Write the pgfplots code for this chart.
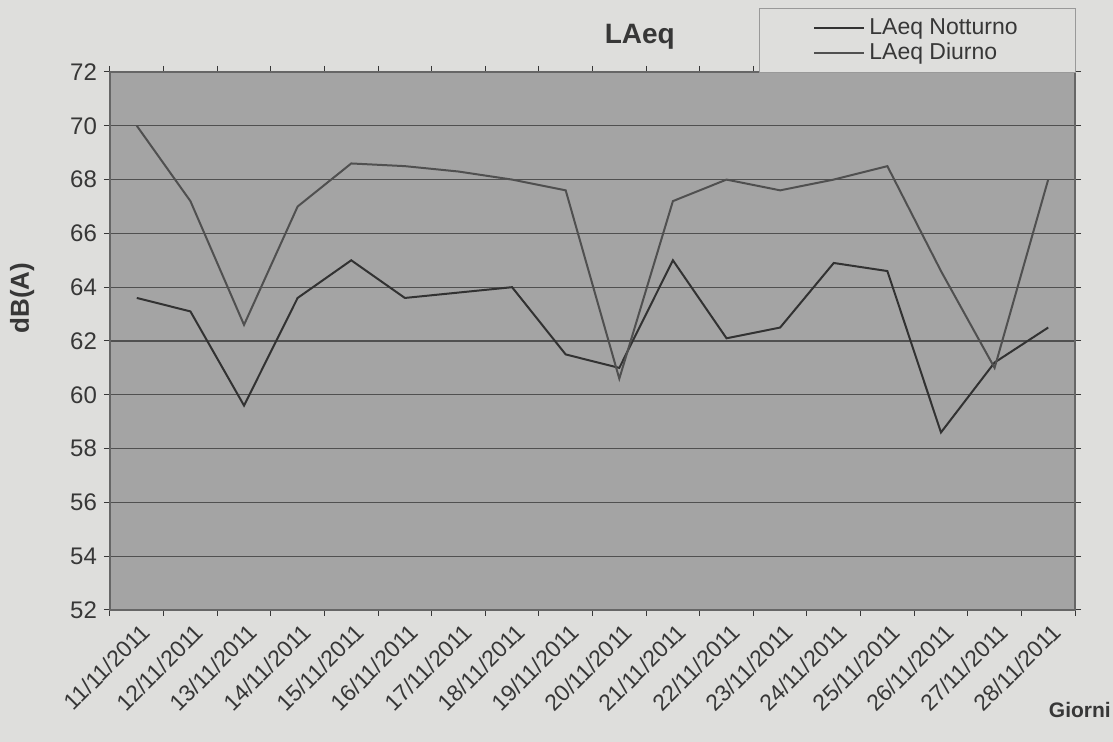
\documentclass[border=0pt]{standalone}
\usepackage{pgfplots}
\pgfplotsset{compat=1.18}
\usepackage{pgfplotstable}
\usepackage{fontspec}
\setmainfont{Liberation Sans}
\definecolor{paper}{RGB}{222,222,220}
\definecolor{plotbg}{RGB}{164,164,164}
\definecolor{ink}{RGB}{55,55,55}
\definecolor{gridc}{RGB}{80,80,80}
\definecolor{notturno}{RGB}{50,50,50}
\definecolor{diurno}{RGB}{80,80,80}

\pgfplotstableread{
idx N D
0 63.6 70.0
1 63.1 67.2
2 59.6 62.6
3 63.6 67.0
4 65.0 68.6
5 63.6 68.5
6 63.8 68.3
7 64.0 68.0
8 61.5 67.6
9 61.0 60.6
10 65.0 67.2
11 62.1 68.0
12 62.5 67.6
13 64.9 68.0
14 64.6 68.5
15 58.6 64.6
16 61.2 61.0
17 62.5 68.0
}\data

\begin{document}
\begin{tikzpicture}
\fill[paper] (-55pt,-66pt) rectangle (501.5pt,305pt);
\path[use as bounding box] (-55pt,-66pt) rectangle (501.5pt,305pt);
\begin{axis}[
  at={(0pt,0pt)}, anchor=south west,
  scale only axis,
  width=482.5pt, height=269pt,
  xmin=-0.5, xmax=17.5, ymin=52, ymax=72,
  ytick={52,54,...,72},
  xtick={0,...,17},
  xticklabels={11/11/2011,12/11/2011,13/11/2011,14/11/2011,15/11/2011,16/11/2011,17/11/2011,18/11/2011,19/11/2011,20/11/2011,21/11/2011,22/11/2011,23/11/2011,24/11/2011,25/11/2011,26/11/2011,27/11/2011,28/11/2011},
  minor xtick={-0.5,0.5,...,17.5},
  major x tick style={draw=none},
  minor x tick style={draw=ink, line width=0.5pt},
  ytick style={draw=ink, line width=0.5pt},
  tick align=outside,
  major tick length=3pt, minor tick length=3pt,
  x tick label style={rotate=45, anchor=north east, font=\fontsize{11.5}{12}\selectfont, text=ink, inner sep=1pt, yshift=-2pt},
  y tick label style={font=\fontsize{12}{13}\selectfont, text=ink},
  /pgf/number format/assume math mode=true,
  axis background/.style={fill=plotbg},
  axis line style={draw=black!60, line width=0.6pt},
  ymajorgrids,
  major grid style={draw=gridc, line width=0.6pt},
  title={\textbf{LAeq}},
  title style={at={(0.549,1.043)}, anchor=center, font=\fontsize{14}{16}\selectfont, text=ink},
  ylabel={\textbf{dB(A)}},
  ylabel style={at={(axis description cs:-0.091,0.58)}, anchor=center, font=\fontsize{13}{15}\selectfont, text=ink},
  xlabel={\textbf{Giorni}},
  xlabel style={at={(axis description cs:1.005,-0.186)}, anchor=center, font=\fontsize{10.5}{12}\selectfont, text=ink},
  legend style={at={(0.6725,1.119)}, anchor=north west, draw=black!40, fill=paper,
    font=\fontsize{11.5}{12}\selectfont, text=ink, inner xsep=27pt, inner ysep=3pt,
    row sep=-1pt, legend cell align=left},
  legend image code/.code={\draw[#1] (0pt,0pt) -- (25pt,0pt);},
  clip=false,
]
\addplot[notturno, line width=1pt] table[x=idx, y=N] {\data};
\addlegendentry{LAeq Notturno}
\addplot[diurno, line width=1pt] table[x=idx, y=D] {\data};
\addlegendentry{LAeq Diurno}
\end{axis}
\end{tikzpicture}
\end{document}
